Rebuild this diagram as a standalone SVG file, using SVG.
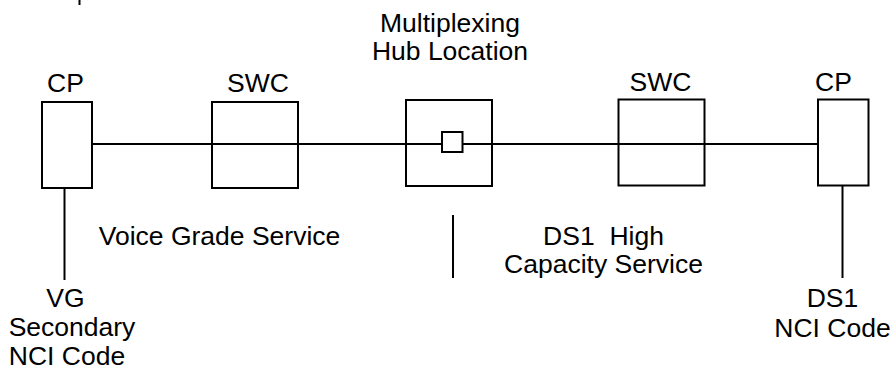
<svg xmlns="http://www.w3.org/2000/svg" width="893" height="368" viewBox="0 0 893 368">
<style>
.box{fill:none;stroke:#000;stroke-width:2}
.ln{fill:none;stroke:#000;stroke-width:2}
text{font-family:"Liberation Sans",Arial,sans-serif;font-size:26.5px;fill:#000;text-anchor:middle}
</style>
<rect width="893" height="368" fill="#fff"/>
<g id="connectors">
<line class="ln" x1="92" y1="144" x2="818" y2="144"/>
<line class="ln" x1="64.5" y1="188" x2="64.5" y2="280"/>
<line class="ln" x1="842.5" y1="186" x2="842.5" y2="278"/>
<line class="ln" x1="453" y1="215" x2="453" y2="278"/>
<line class="ln" x1="79.5" y1="0" x2="79.5" y2="5"/>
</g>
<g id="cp-left">
<rect class="box" x="42" y="102" width="50" height="86"/>
<text x="65.5" y="91.5">CP</text>
</g>
<g id="swc-left">
<rect class="box" x="212" y="102" width="86" height="86"/>
<text x="258" y="91.5">SWC</text>
</g>
<g id="hub">
<rect class="box" x="406" y="100" width="86" height="86"/>
<rect x="442" y="132" width="20.5" height="20" fill="#fff" stroke="#000" stroke-width="2"/>
<text x="450" y="31.5">Multiplexing</text>
<text x="450" y="60">Hub Location</text>
</g>
<g id="swc-right">
<rect class="box" x="618.5" y="99.5" width="86" height="86"/>
<text x="660.5" y="91">SWC</text>
</g>
<g id="cp-right">
<rect class="box" x="818" y="99.5" width="50.5" height="86"/>
<text x="833.5" y="91">CP</text>
</g>
<g id="labels">
<text x="219.5" y="245">Voice Grade Service</text>
<text x="603.5" y="245">DS1&#160; High</text>
<text x="603.5" y="273">Capacity Service</text>
<text x="65.5" y="306.5">VG</text>
<text x="72" y="336">Secondary</text>
<text x="67" y="365">NCI Code</text>
<text x="832.5" y="307">DS1</text>
<text x="832.5" y="336.5">NCI Code</text>
</g>
</svg>
